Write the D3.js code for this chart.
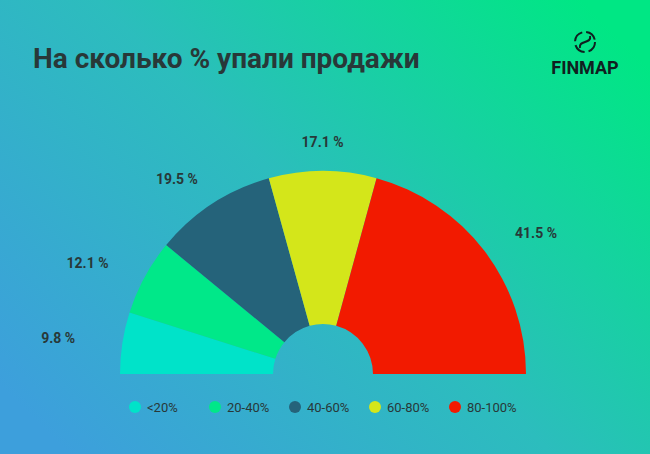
<!DOCTYPE html>
<html><head><meta charset="utf-8">
<script src="https://cdn.jsdelivr.net/npm/d3@7"></script>
<style>body{margin:0}svg{display:block}</style>
</head><body>
<svg id="chart"></svg>
<script>
const categories = ["<20%", "20-40%", "40-60%", "60-80%", "80-100%"];
const values = [9.8, 12.1, 19.5, 17.1, 41.5];
const colors = ["#00e3c9", "#00e889", "#25637a", "#d4e61a", "#f21a00"];

const width = 650, height = 454;
const cx = 323, cy = 374, outerR = 203, innerR = 50, labelRx = 268, labelRy = 232;

const svg = d3.select("#chart").attr("width", width).attr("height", height);

const defs = svg.append("defs");
const grad = defs.append("linearGradient").attr("id", "bg")
  .attr("x1", "0%").attr("y1", "85%").attr("x2", "100%").attr("y2", "15%");
grad.append("stop").attr("offset", "0%").attr("stop-color", "#3d9fdc");
grad.append("stop").attr("offset", "50%").attr("stop-color", "#2cbdbd");
grad.append("stop").attr("offset", "100%").attr("stop-color", "#00e784");
svg.append("rect").attr("width", width).attr("height", height).attr("fill", "url(#bg)");

svg.append("text").attr("x", 33).attr("y", 68)
  .attr("font-family", "Roboto, sans-serif").attr("font-weight", 700)
  .attr("font-size", 28).attr("fill", "#283838")
  .text("На сколько % упали продажи");

// logo
const logo = svg.append("g");
logo.append("text").attr("x", 585).attr("y", 74).attr("text-anchor", "middle")
  .attr("font-family", "Roboto, sans-serif").attr("font-weight", 700)
  .attr("font-size", 18).attr("fill", "#102020").text("FINMAP");
logo.append("circle").attr("cx", 585).attr("cy", 42).attr("r", 10)
  .attr("fill", "none").attr("stroke", "#102020").attr("stroke-width", 2)
  .attr("stroke-dasharray", "12 4");
logo.append("path").attr("d", "M580,48 C578,40 592,44 590,36")
  .attr("fill", "none").attr("stroke", "#102020").attr("stroke-width", 2);

const pie = d3.pie().sort(null).value(d => d)
  .startAngle(-Math.PI / 2).endAngle(Math.PI / 2);
const arcs = pie(values);
const arc = d3.arc().innerRadius(innerR).outerRadius(outerR);
const unitArc = d3.arc().innerRadius(1).outerRadius(1);

const g = svg.append("g").attr("transform", `translate(${cx},${cy})`);
g.selectAll("path").data(arcs).join("path")
  .attr("d", arc).attr("fill", (d, i) => colors[i]);

g.selectAll("text").data(arcs).join("text")
  .attr("transform", d => {
    const [ux, uy] = unitArc.centroid(d);
    return `translate(${ux * labelRx},${uy * labelRy})`;
  })
  .attr("text-anchor", "middle").attr("dy", "0.35em")
  .attr("font-family", "Roboto, sans-serif").attr("font-weight", 700)
  .attr("font-size", 14).attr("fill", "#283838")
  .text(d => d.data + " %");

// legend
const legendX = d3.scalePoint().domain(categories).range([135, 455]);
const lg = svg.append("g").selectAll("g").data(categories).join("g")
  .attr("transform", d => `translate(${legendX(d)},407)`);
lg.append("circle").attr("r", 6).attr("fill", (d, i) => colors[i]);
lg.append("text").attr("x", 12).attr("dy", "0.35em")
  .attr("font-family", "Roboto, sans-serif").attr("font-size", 13)
  .attr("fill", "#283838").text(d => d);
</script>
</body></html>
